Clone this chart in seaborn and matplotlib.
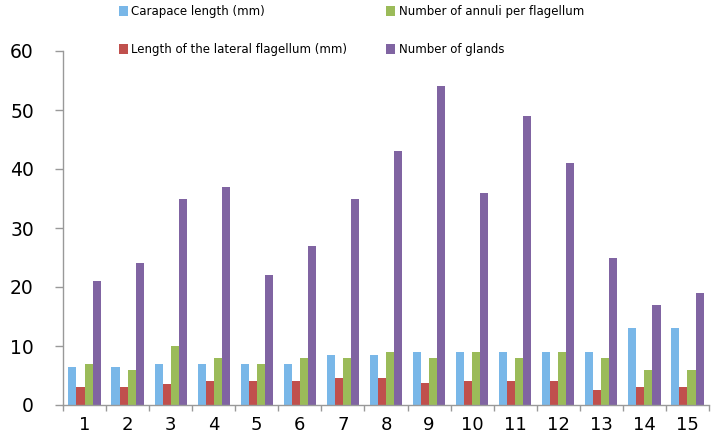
import matplotlib
matplotlib.use("Agg")
import matplotlib.pyplot as plt
import pandas as pd
import seaborn as sns

# values
specimens = [str(i) for i in range(1, 16)]
carapace_length = [6.5, 6.5, 7, 7, 7, 7, 8.5, 8.5, 9, 9, 9, 9, 9, 13, 13]
lateral_flagellum = [3, 3, 3.5, 4, 4, 4, 4.5, 4.5, 3.7, 4, 4, 4, 2.5, 3, 3]
annuli = [7, 6, 10, 8, 7, 8, 8, 9, 8, 9, 8, 9, 8, 6, 6]
glands = [21, 24, 35, 37, 22, 27, 35, 43, 54, 36, 49, 41, 25, 17, 19]

series_names = [
    "Carapace length (mm)",
    "Length of the lateral flagellum (mm)",
    "Number of annuli per flagellum",
    "Number of glands",
]
palette = ["#79B7E8", "#C0504D", "#9BBB59", "#8064A2"]

df = pd.DataFrame({
    "Specimen": specimens * 4,
    "Series": [n for n in series_names for _ in specimens],
    "Value": carapace_length + lateral_flagellum + annuli + glands,
})

sns.set_style("white")
plt.rcParams["font.family"] = ["DejaVu Sans"]
plt.rcParams["text.color"] = "black"
plt.rcParams["xtick.labelcolor"] = "black"
plt.rcParams["ytick.labelcolor"] = "black"

fig = plt.figure(figsize=(7.14, 4.38), dpi=100)
ax = fig.add_axes([63 / 714, 1 - 405 / 438, (709 - 63) / 714, (405 - 51) / 438])

sns.barplot(data=df, x="Specimen", y="Value", hue="Series", hue_order=series_names,
            palette=palette, width=0.75, saturation=1, linewidth=0, ax=ax, legend=True)

ax.set_ylim(0, 60)
ax.set_xlim(-0.5, 14.5)
ax.set_yticks(range(0, 61, 10))
ax.set_xlabel("")
ax.set_ylabel("")

# x ticks at category boundaries, labels at centres
ax.set_xticks([i - 0.5 for i in range(16)], minor=False)
ax.set_xticklabels([])
ax.set_xticks(range(15), minor=True)
ax.set_xticklabels(specimens, minor=True, fontsize=13)
ax.tick_params(axis="x", which="major", direction="out", length=4, width=1, color="#999999", bottom=True)
ax.tick_params(axis="x", which="minor", length=0, pad=8, labelcolor="black")
ax.tick_params(axis="y", direction="out", length=6, width=1, color="#999999", left=True,
               labelsize=13.5, pad=15, labelcolor="black")

for side in ["top", "right"]:
    ax.spines[side].set_visible(False)
for side in ["left", "bottom"]:
    ax.spines[side].set_color("#999999")
    ax.spines[side].set_linewidth(1)
ax.grid(False)

handles, labels = ax.get_legend_handles_labels()
ax.get_legend().remove()
fig.legend(handles, labels, ncol=2, loc="upper left", bbox_to_anchor=(112 / 714, 1.004),
           frameon=False, fontsize=8.5, handlelength=0.75, handleheight=0.9,
           handletextpad=0.3, labelspacing=2.1, columnspacing=3.3, borderaxespad=0.2)

fig.savefig("out.png", dpi=100)
